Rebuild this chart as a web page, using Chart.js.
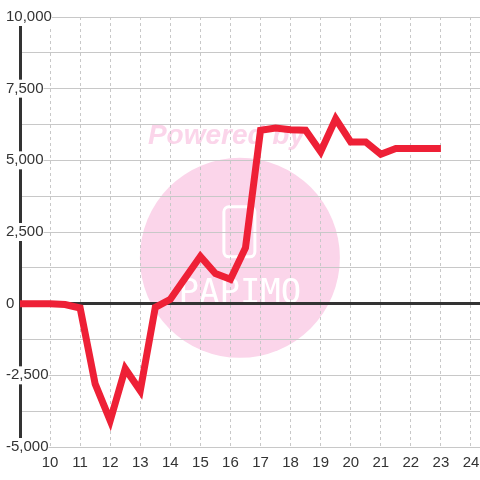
<!DOCTYPE html>
<html>
<head>
<meta charset="utf-8">
<script src="https://cdn.jsdelivr.net/npm/chart.js@4"></script>
<style>
  body { margin: 0; background: #fff; }
  #wrap { width: 480px; height: 480px; }
</style>
</head>
<body>
<div id="wrap"><canvas id="chart" width="480" height="480"></canvas></div>
<script>
const hours = [9, 9.5, 10, 10.5, 11, 11.5, 12, 12.5, 13, 13.5, 14, 14.5, 15, 15.5, 16, 16.5,
  17, 17.5, 18, 18.5, 19, 19.5, 20, 20.5, 21, 21.5, 22, 22.5, 23];
const values = [0, 0, 0, -30, -150, -2800, -4080, -2270, -3040, -130, 150, 900, 1650, 1050, 850, 1950,
  6050, 6130, 6070, 6050, 5300, 6450, 5640, 5640, 5210, 5410, 5410, 5410, 5410];
const xTicks = [10, 11, 12, 13, 14, 15, 16, 17, 18, 19, 20, 21, 22, 23, 24];
const yTicks = [-5000, -3750, -2500, -1250, 0, 1250, 2500, 3750, 5000, 6250, 7500, 8750, 10000];

const watermark = {
  id: "watermark",
  beforeDraw(chart) {
    const { ctx, chartArea: a } = chart;
    const w = a.right - a.left;
    const h = a.bottom - a.top;
    ctx.save();
    ctx.fillStyle = "#fff";
    ctx.fillRect(0, 0, chart.width, chart.height);
    const cx = a.left + w * 0.478;
    const cy = a.top + h * 0.56;
    ctx.fillStyle = "#fbd5ea";
    ctx.beginPath();
    ctx.arc(cx, cy, 100, 0, Math.PI * 2);
    ctx.fill();
    ctx.font = "italic bold 28px 'Liberation Sans', Arial, sans-serif";
    ctx.textBaseline = "alphabetic";
    ctx.fillText("Powered by", cx - 92, a.top + 127);
    ctx.strokeStyle = "#fff";
    ctx.lineWidth = 3;
    ctx.beginPath();
    ctx.roundRect(cx - 16, cy - 51, 31, 50, 5);
    ctx.stroke();
    ctx.fillStyle = "#fff";
    ctx.font = "34px 'DejaVu Sans Mono', monospace";
    ctx.textAlign = "center";
    ctx.fillText("PAPIMO", cx, cy + 45);
    ctx.restore();
  },
};

new Chart(document.getElementById("chart").getContext("2d"), {
  type: "line",
  data: {
    datasets: [
      {
        data: hours.map((h, i) => ({ x: h, y: values[i] })),
        borderColor: "#ee2036",
        borderWidth: 7,
        pointRadius: 0,
        tension: 0,
      },
    ],
  },
  options: {
    responsive: false,
    animation: false,
    layout: { padding: { left: 4, top: 17, right: 0, bottom: 0 } },
    plugins: { legend: { display: false }, tooltip: { enabled: false } },
    scales: {
      x: {
        type: "linear",
        min: 9,
        max: 24.3,
        afterBuildTicks: (s) => { s.ticks = xTicks.map((v) => ({ value: v })); },
        afterFit: (s) => { s.height = 33; s.paddingLeft = 0; s.paddingRight = 0; },
        border: { display: false, dash: [3, 3] },
        grid: { color: "#c8c8c8", drawTicks: false },
        ticks: {
          padding: 7,
          color: "#333",
          font: { family: "'Liberation Sans', Arial, sans-serif", size: 15 },
        },
      },
      y: {
        min: -5000,
        max: 10000,
        afterBuildTicks: (s) => { s.ticks = yTicks.map((v) => ({ value: v })); },
        afterFit: (s) => { s.width = 16; },
        border: { color: "#333", width: 3 },
        grid: {
          drawTicks: false,
          color: (c) => (c.tick && c.tick.value === 0 ? "#333" : "#c8c8c8"),
          lineWidth: (c) => (c.tick && c.tick.value === 0 ? 3 : 1),
        },
        ticks: {
          mirror: true,
          padding: -14,
          color: "#333",
          showLabelBackdrop: true,
          backdropColor: "#fff",
          backdropPadding: 0,
          font: { family: "'Liberation Sans', Arial, sans-serif", size: 15 },
          callback: (v) => (v % 2500 === 0 ? v.toLocaleString("en-US") : ""),
        },
      },
    },
  },
  plugins: [watermark],
});
</script>
</body>
</html>
